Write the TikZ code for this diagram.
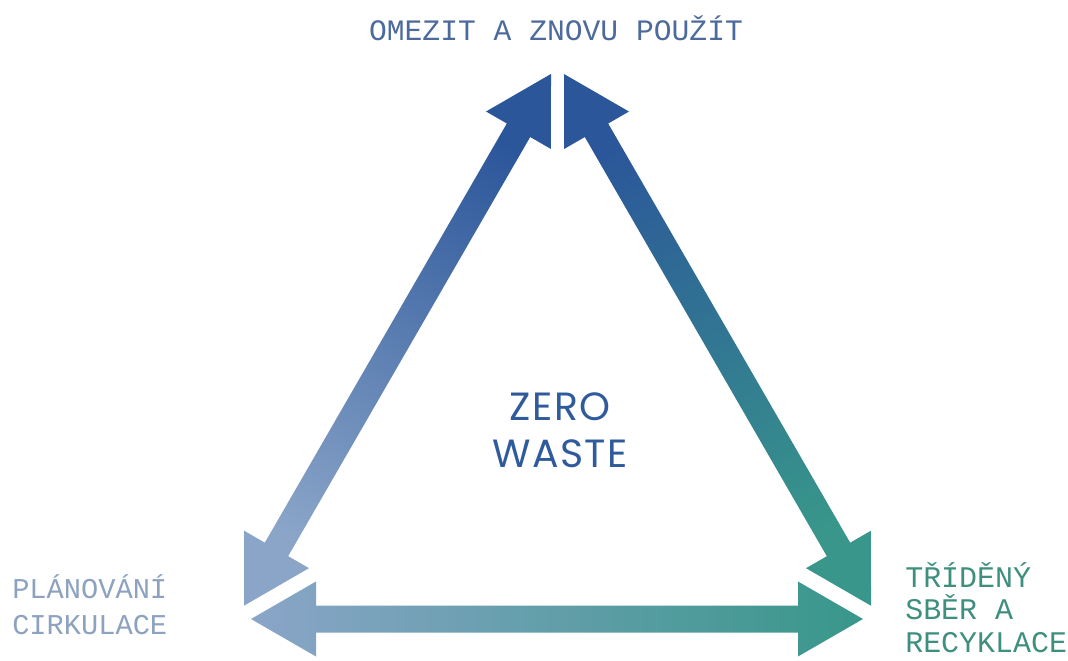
\documentclass[tikz,border=0pt]{standalone}
\usepackage{fontspec}
\newfontfamily\monofont{Liberation Mono}
\newfontfamily\headfont[LetterSpace=4]{Poppins}
\usetikzlibrary{calc}

\definecolor{zwblue}{HTML}{2B569A}
\definecolor{zwgrey}{HTML}{8AA5C8}
\definecolor{zwteal}{HTML}{38978A}
\definecolor{toptext}{HTML}{4D6A9C}
\definecolor{lefttext}{HTML}{8CA2BF}
\definecolor{righttext}{HTML}{3F8F7F}
\definecolor{midtext}{HTML}{2F5B9C}

\tikzset{
	cornertext/.style={inner sep=0pt, align=left, anchor=base west},
	headtext/.style={inner sep=0pt, align=center, anchor=base, color=midtext,
			font=\headfont\fontsize{28}{34}\selectfont}
}

% double arrow: start, angle, length, shading angle, start colour, end colour
\newcommand{\zwarrow}[6]{
	\begin{scope}[shift={(#1)}, rotate=#2]
		\shade[left color=#5, right color=#6, shading angle=#4]
		(0,0) -- (65,37.5) -- (65,13.5) -- (#3-65,13.5) -- (#3-65,37.5) -- (#3,0)
		-- (#3-65,-37.5) -- (#3-65,-13.5) -- (65,-13.5) -- (65,-37.5) -- cycle;
	\end{scope}
}

\begin{document}
\begin{tikzpicture}[x=0.025cm, y=0.025cm]
		\useasboundingbox (0,0) rectangle (1068,660);
		\coordinate (topL) at (551,586);
		\coordinate (topR) at (564,586);
		\coordinate (botL) at (244,54.3);
		\coordinate (botR) at (871,54.3);
		\coordinate (baseL) at (251,41);
		\coordinate (baseR) at (863,41);

		\zwarrow{botL}{60}{614}{150}{zwgrey}{zwblue}
		\zwarrow{topR}{-60}{614}{30}{zwblue}{zwteal}
		\zwarrow{baseL}{0}{612}{90}{zwgrey}{zwteal}

		\node [inner sep=0pt, anchor=base, color=toptext, font=\monofont\fontsize{21.1}{25}\selectfont] (reduce) at (556,619) {OMEZIT A ZNOVU POUŽÍT};
		\node [cornertext, color=lefttext, font=\monofont\fontsize{20.4}{24.9}\selectfont] (plan) at (12,26) {PLÁNOVÁNÍ\\CIRKULACE};
		\node [cornertext, color=righttext, font=\monofont\fontsize{21.3}{22.8}\selectfont] (sort) at (905,8) {TŘÍDĚNÝ\\SBĚR A\\RECYKLACE};
		\node [headtext] (zero) at (560,192) {ZERO\\WASTE};
	\end{tikzpicture}
\end{document}
